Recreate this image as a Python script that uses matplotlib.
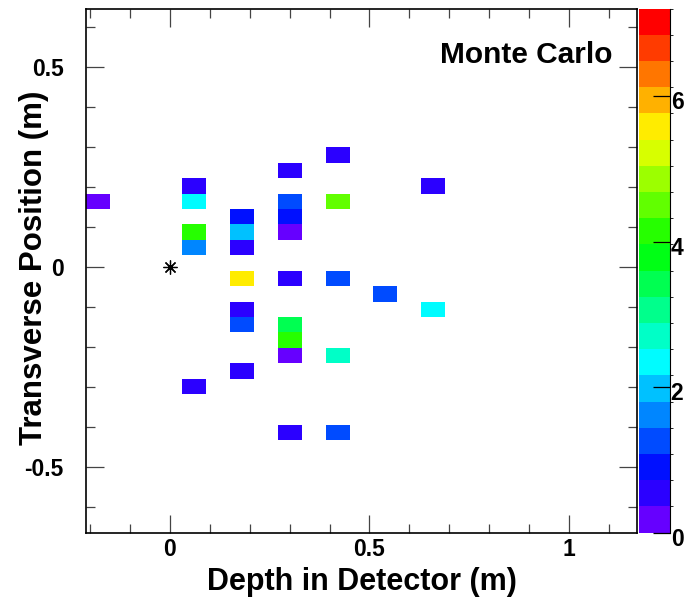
import colorsys

import numpy as np
import matplotlib
matplotlib.use("Agg")
import matplotlib.pyplot as plt
import matplotlib.transforms as mtransforms
from matplotlib.colors import ListedColormap, BoundaryNorm
from matplotlib.ticker import MultipleLocator

# hit cells: depth (m), transverse position (m), content
depth = [-0.18,
         0.06, 0.06, 0.06, 0.06, 0.06,
         0.18, 0.18, 0.18, 0.18, 0.18, 0.18, 0.18,
         0.30, 0.30, 0.30, 0.30, 0.30, 0.30, 0.30, 0.30, 0.30,
         0.42, 0.42, 0.42, 0.42, 0.42,
         0.54,
         0.66, 0.66]
transverse = [0.164,
              0.203, 0.164, 0.088, 0.049, -0.297,
              0.126, 0.088, 0.049, -0.028, -0.105, -0.143, -0.259,
              0.241, 0.164, 0.126, 0.088, -0.028, -0.143, -0.182, -0.220, -0.413,
              0.280, 0.164, -0.028, -0.220, -0.413,
              -0.066,
              -0.105, 0.203]
content = [0.2,
           0.5, 2.3, 4.1, 1.6, 0.5,
           0.9, 2.0, 0.5, 5.6, 0.5, 1.3, 0.5,
           0.5, 1.3, 0.9, 0.2, 0.5, 3.4, 4.1, 0.2, 0.5,
           0.5, 4.5, 1.3, 2.7, 1.3,
           1.3,
           2.3, 0.5]

# histogram binning
x_edges = np.linspace(-0.21, 1.17, 24)
y_edges = np.linspace(-0.663, 0.646, 35)
z_max = 7.2
n_levels = 20

# ROOT-like rainbow palette
hues = np.linspace(264, 0, n_levels) / 360.0
palette = ListedColormap([colorsys.hls_to_rgb(h, 0.5, 1.0) for h in hues])
norm = BoundaryNorm(np.linspace(0, z_max, n_levels + 1), n_levels)

plt.rcParams['font.family'] = ['Liberation Sans', 'DejaVu Sans']
plt.rcParams['font.weight'] = 'bold'

fig = plt.figure(figsize=(6.85, 5.99), dpi=100)
ax = fig.add_axes([0.1255, 0.1107, 0.8045, 0.8748])
cax = fig.add_axes([0.9328, 0.1107, 0.0453, 0.8748])

H, _, _ = np.histogram2d(depth, transverse, bins=[x_edges, y_edges], weights=content)
H = np.ma.masked_where(H == 0, H)
mesh = ax.pcolormesh(x_edges, y_edges, H.T, cmap=palette, norm=norm)

# vertex marker
ax.plot([0], [0], marker=(8, 2, 0), color='black', markersize=10, mew=0.9)

ax.set_xlim(x_edges[0], x_edges[-1])
ax.set_ylim(y_edges[0], y_edges[-1])
ax.xaxis.set_major_locator(MultipleLocator(0.5))
ax.xaxis.set_minor_locator(MultipleLocator(0.1))
ax.yaxis.set_major_locator(MultipleLocator(0.5))
ax.yaxis.set_minor_locator(MultipleLocator(0.1))
ax.xaxis.set_major_formatter(lambda v, p: f"{v:g}")
ax.yaxis.set_major_formatter(lambda v, p: f"{v:g}")
ax.tick_params(which='both', direction='in', top=True, right=True,
               width=0.9, color='#444444', labelsize=16.5)
ax.tick_params(which='major', length=13)
ax.tick_params(which='minor', length=6.5)
ax.tick_params(axis='x', which='major', pad=3.5)
ax.tick_params(axis='y', which='major', pad=16)
for s in ax.spines.values():
    s.set_linewidth(1.2)

ax.set_xlabel('Depth in Detector (m)', fontsize=22, fontweight='bold')
ax.set_ylabel('Transverse Position (m)', fontsize=22.5, fontweight='bold')
ax.xaxis.set_label_coords(0.5, -0.066)
ax.yaxis.set_label_coords(-0.067, 0.506)

ax.text(0.956, 0.896, 'Monte Carlo', transform=ax.transAxes, ha='right',
        va='baseline', fontsize=21.5, fontweight='bold')

cb = fig.colorbar(mesh, cax=cax, ticks=[0, 2, 4, 6])
cb.outline.set_visible(False)
cax.spines['right'].set_visible(True)
cax.tick_params(direction='in', length=12, width=0.9, labelsize=16.5, pad=0.5)
# ROOT draws the palette labels a little below their ticks
shift = mtransforms.ScaledTranslation(0, -4 / 100, fig.dpi_scale_trans)
for t in cax.get_yticklabels():
    t.set_transform(t.get_transform() + shift)

fig.savefig('out.png', dpi=100)
